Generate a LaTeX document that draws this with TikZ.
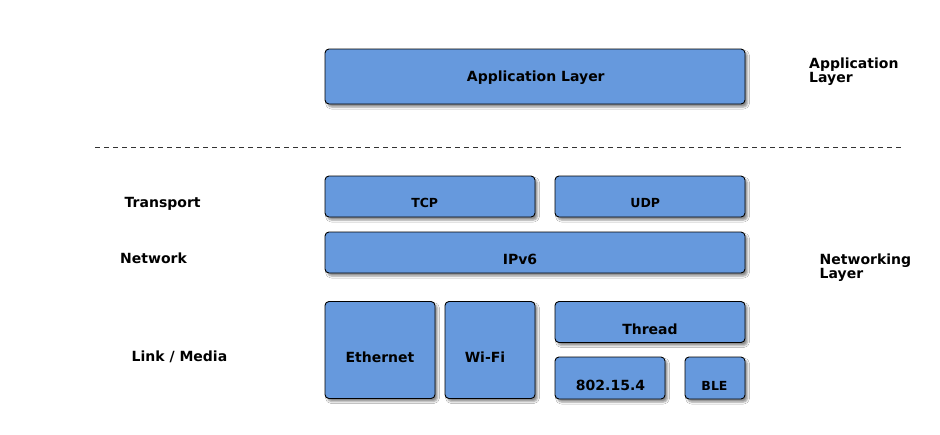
\documentclass[tikz,border=0pt]{standalone}
\usepackage{fontspec}
\setmainfont{DejaVu Sans}
\usetikzlibrary{shadows.blur}
\definecolor{boxblue}{RGB}{102,153,221}
\tikzset{
  box/.style={draw=black, line width=0.9pt, fill=boxblue, rounded corners=4pt, inner sep=0pt,
    blur shadow={shadow xshift=2.5pt, shadow yshift=-3pt, shadow blur radius=2pt, shadow opacity=45}},
  lbl/.style={font=\fontsize{14}{14}\selectfont\bfseries, inner sep=0pt, anchor=base},
  slbl/.style={font=\fontsize{12.5}{12.5}\selectfont\bfseries, inner sep=0pt, anchor=base},
  side/.style={font=\fontsize{14}{14}\selectfont\bfseries, inner sep=0pt, anchor=base west},
}
\begin{document}
\begin{tikzpicture}[x=1pt, y=-1pt]
\useasboundingbox[fill=white] (0,0) rectangle (940,434);
% boxes (center x, center y, width, height)
\node[box, minimum width=420pt, minimum height=55pt] (app) at (535,76.5) {};
\node[box, minimum width=210pt, minimum height=41pt] (tcp) at (430,196.5) {};
\node[box, minimum width=190pt, minimum height=41pt] (udp) at (650,196.5) {};
\node[box, minimum width=420pt, minimum height=41pt] (ipv6) at (535,252.5) {};
\node[box, minimum width=110pt, minimum height=97pt] (eth) at (380,350) {};
\node[box, minimum width=90pt, minimum height=97pt] (wifi) at (490,350) {};
\node[box, minimum width=190pt, minimum height=41pt] (thread) at (650,322) {};
\node[box, minimum width=110pt, minimum height=42pt] (ieee) at (610,378) {};
\node[box, minimum width=60pt, minimum height=42pt] (ble) at (715,378) {};
% box texts
\node[lbl] (appt) at (535.8,81.3) {Application Layer};
\node[slbl] (tcpt) at (424.7,207.5) {TCP};
\node[slbl] (udpt) at (645.3,207) {UDP};
\node[lbl] (ipv6t) at (520,264) {IPv6};
\node[lbl] (etht) at (380,362.3) {Ethernet};
\node[lbl] (wifit) at (485,362.3) {Wi-Fi};
\node[lbl] (threadt) at (650,334) {Thread};
\node[lbl] (ieeet) at (610.5,390.7) {802.15.4};
\node[slbl] (blet) at (714.5,390.5) {BLE};
% separator
\coordinate (sepL) at (95,147);
\coordinate (sepR) at (903,147);
\draw[line width=0.8pt, dash pattern=on 5pt off 4pt, black!80] (sepL) -- (sepR);
% side labels
\node[side] (sapp1) at (809,68) {Application};
\node[side] (sapp2) at (809,82) {Layer};
\node[side] (tr) at (124.5,207.5) {Transport};
\node[side] (nw) at (120,263.5) {Network};
\node[side] (lm) at (131.5,361.5) {Link / Media};
\node[side] (snet1) at (819.5,264) {Networking};
\node[side] (snet2) at (819.5,278) {Layer};
\end{tikzpicture}
\end{document}
